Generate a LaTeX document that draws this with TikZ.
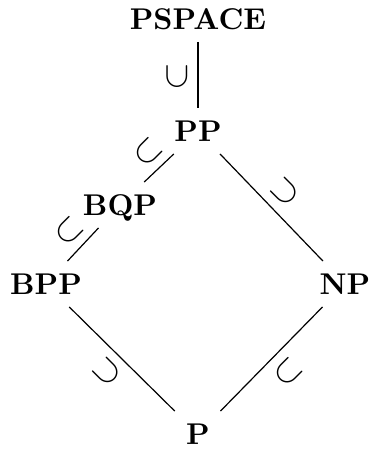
\documentclass[tikz,border=0pt]{standalone}
\begin{document}
\begin{tikzpicture}[x=0.33333pt,y=-0.33333pt,
  cls/.style={font=\bfseries, inner xsep=4pt, inner ysep=4pt,
              text height=6.9pt, text depth=0pt},
  sub/.style={inner sep=0pt, font=\large},
  link/.style={line width=0.4pt}]
  \useasboundingbox (0,0) rectangle (371,450);

  % complexity classes
  \node[cls] (pspace) at (198,19)  {PSPACE};
  \node[cls] (pp)     at (198,131) {PP};
  \node[cls] (bqp)    at (120,205) {BQP};
  \node[cls] (bpp)    at (46,284)  {BPP};
  \node[cls] (np)     at (345,284) {NP};
  \node[cls] (p)      at (198,434) {P};

  % inclusions
  \draw[link] (pspace) -- (pp);
  \draw[link] (pp) -- (bqp);
  \draw[link] (bqp) -- (bpp);
  \draw[link] (pp) -- (np);
  \draw[link] (bpp) -- (p);
  \draw[link] (np) -- (p);

  % subset marks, opening toward the larger class
  \node[sub, rotate=90]  (s1) at (177,76)  {$\subset$};
  \node[sub, rotate=45]  (s2) at (148,152) {$\subset$};
  \node[sub, rotate=45]  (s3) at (69,231)  {$\subset$};
  \node[sub, rotate=135] (s4) at (285,192) {$\subset$};
  \node[sub, rotate=135] (s5) at (107,372) {$\subset$};
  \node[sub, rotate=45]  (s6) at (288,372) {$\subset$};
\end{tikzpicture}
\end{document}
